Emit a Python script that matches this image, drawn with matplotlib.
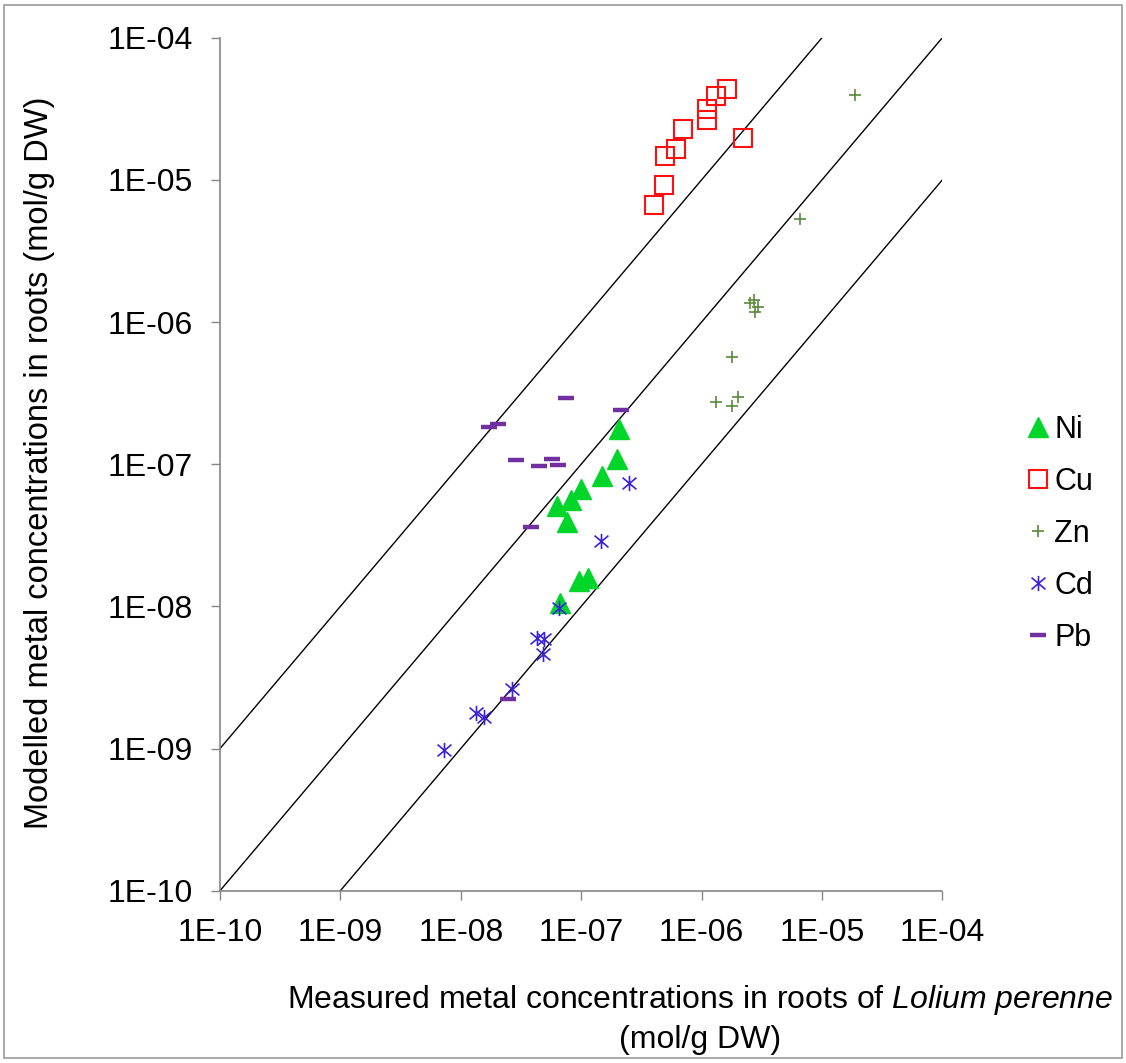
import numpy as np
import matplotlib
matplotlib.use('Agg')
import matplotlib.pyplot as plt
from matplotlib.path import Path
from matplotlib.patches import Rectangle

plt.rcParams['font.family'] = ['Liberation Sans', 'DejaVu Sans']
plt.rcParams['mathtext.fontset'] = 'custom'
plt.rcParams['mathtext.rm'] = 'Liberation Sans'
plt.rcParams['mathtext.it'] = 'Liberation Sans:italic'

'''
Data (measured, modelled) in mol/g DW
'''
ni_meas = [2.05e-7, 1.98e-7, 1.48e-7, 1.0e-7, 8.2e-8, 6.3e-8, 7.6e-8, 1.15e-7, 9.6e-8, 6.7e-8]
ni_mod = [1.76e-7, 1.08e-7, 8.2e-8, 6.7e-8, 5.6e-8, 5.1e-8, 3.9e-8, 1.58e-8, 1.52e-8, 1.06e-8]

cu_meas = [1.62e-6, 1.32e-6, 1.10e-6, 1.10e-6, 7.0e-7, 2.19e-6, 6.1e-7, 5.0e-7, 4.9e-7, 4.0e-7]
cu_mod = [4.36e-5, 3.91e-5, 3.14e-5, 2.64e-5, 2.28e-5, 1.96e-5, 1.66e-5, 1.47e-5, 9.2e-6, 6.7e-6]

zn_meas = [1.87e-5, 6.6e-6, 2.52e-6, 2.74e-6, 2.96e-6, 2.78e-6, 1.78e-6, 1.33e-6, 1.78e-6, 2.0e-6]
zn_mod = [3.95e-5, 5.28e-6, 1.36e-6, 1.43e-6, 1.28e-6, 1.18e-6, 5.7e-7, 2.75e-7, 2.58e-7, 2.99e-7]

cd_meas = [2.51e-7, 1.47e-7, 6.6e-8, 4.3e-8, 4.9e-8, 4.8e-8, 2.68e-8, 1.33e-8, 1.56e-8, 7.2e-9]
cd_mod = [7.4e-8, 2.9e-8, 9.8e-9, 6.0e-9, 5.9e-9, 4.6e-9, 2.62e-9, 1.79e-9, 1.66e-9, 9.7e-10]

pb_meas = [1.72e-8, 2.05e-8, 2.9e-8, 4.5e-8, 5.75e-8, 6.4e-8, 3.8e-8, 2.13e-7, 7.5e-8, 2.48e-8]
pb_mod = [1.84e-7, 1.91e-7, 1.07e-7, 9.7e-8, 1.09e-7, 9.8e-8, 3.6e-8, 2.41e-7, 2.92e-7, 2.22e-9]

decades = [1e-10, 1e-9, 1e-8, 1e-7, 1e-6, 1e-5, 1e-4]
ratios = [10, 1, 0.1]  # modelled / measured reference lines

fig = plt.figure(figsize=(11.26, 10.63), dpi=100)
ax = fig.add_axes([0.1954, 0.1621, 0.6415, 0.8024])

# reference lines
lo, hi = 1e-10, 1e-4
for r in ratios:
    ax.plot([lo, hi], [lo * r, hi * r], color='black', lw=1.0, zorder=1)

# asterisk marker like the spreadsheet one
star = Path([(-1, -0.85), (1, 0.85), (-1, 0.85), (1, -0.85), (0, -1.1), (0, 1.1)],
            [Path.MOVETO, Path.LINETO, Path.MOVETO, Path.LINETO, Path.MOVETO, Path.LINETO])

ax.plot(ni_meas, ni_mod, ls='none', marker='^', ms=14, color='#00d62a', mec='#00d62a', label='Ni', zorder=3)
ax.plot(cu_meas, cu_mod, ls='none', marker='s', ms=13.5, mfc='none', mec='#ff1010', mew=1.5, label='Cu', zorder=3)
ax.plot(zn_meas, zn_mod, ls='none', marker='+', ms=9, color='#5a8a3a', mew=1.2, label='Zn', zorder=3)
ax.plot(cd_meas, cd_mod, ls='none', marker=star, ms=11, color='#3a22d8', mew=1.2, label='Cd', zorder=3)
ax.plot(pb_meas, pb_mod, ls='none', marker='_', ms=11, color='#7030a0', mew=3.2, label='Pb', zorder=3)

ax.set_xscale('log')
ax.set_yscale('log')
ax.set_xlim(lo, hi)
ax.set_ylim(lo, hi)
ax.set_xticks(decades)
ax.set_yticks(decades)
ax.minorticks_off()
fmt = lambda v, _: '1E-%02d' % int(round(-np.log10(v)))
ax.xaxis.set_major_formatter(plt.FuncFormatter(fmt))
ax.yaxis.set_major_formatter(plt.FuncFormatter(fmt))
ax.tick_params(axis='both', which='major', direction='out', length=6.5, width=1,
               color='#868686', labelsize=23, pad=13)

for s in ['top', 'right']:
    ax.spines[s].set_visible(False)
for s in ['left', 'bottom']:
    ax.spines[s].set_color('#868686')
    ax.spines[s].set_linewidth(1.2)

fig.text(0.0355, 0.565, 'Modelled metal concentrations in roots (mol/g DW)', fontsize=23.5,
         rotation=90, ha='center', va='center')

fig.text(0.6217, 0.0593, r'Measured metal concentrations in roots of $\it{Lolium\ perenne}$',
         fontsize=23, ha='center', va='center')
fig.text(0.6217, 0.0216, '(mol/g DW)', fontsize=23, ha='center', va='center')

leg = ax.legend(loc='center left', bbox_to_anchor=(0.888, 0.4977), bbox_transform=fig.transFigure,
                frameon=False, fontsize=22, handlelength=0.7, handletextpad=0.18,
                labelspacing=0.72, numpoints=1)

fig.patches.append(Rectangle((0.0035, 0.0045), 0.993, 0.991, transform=fig.transFigure,
                             fill=False, ec='#9a9a9a', lw=1.2))

fig.savefig('out.png', dpi=100)
